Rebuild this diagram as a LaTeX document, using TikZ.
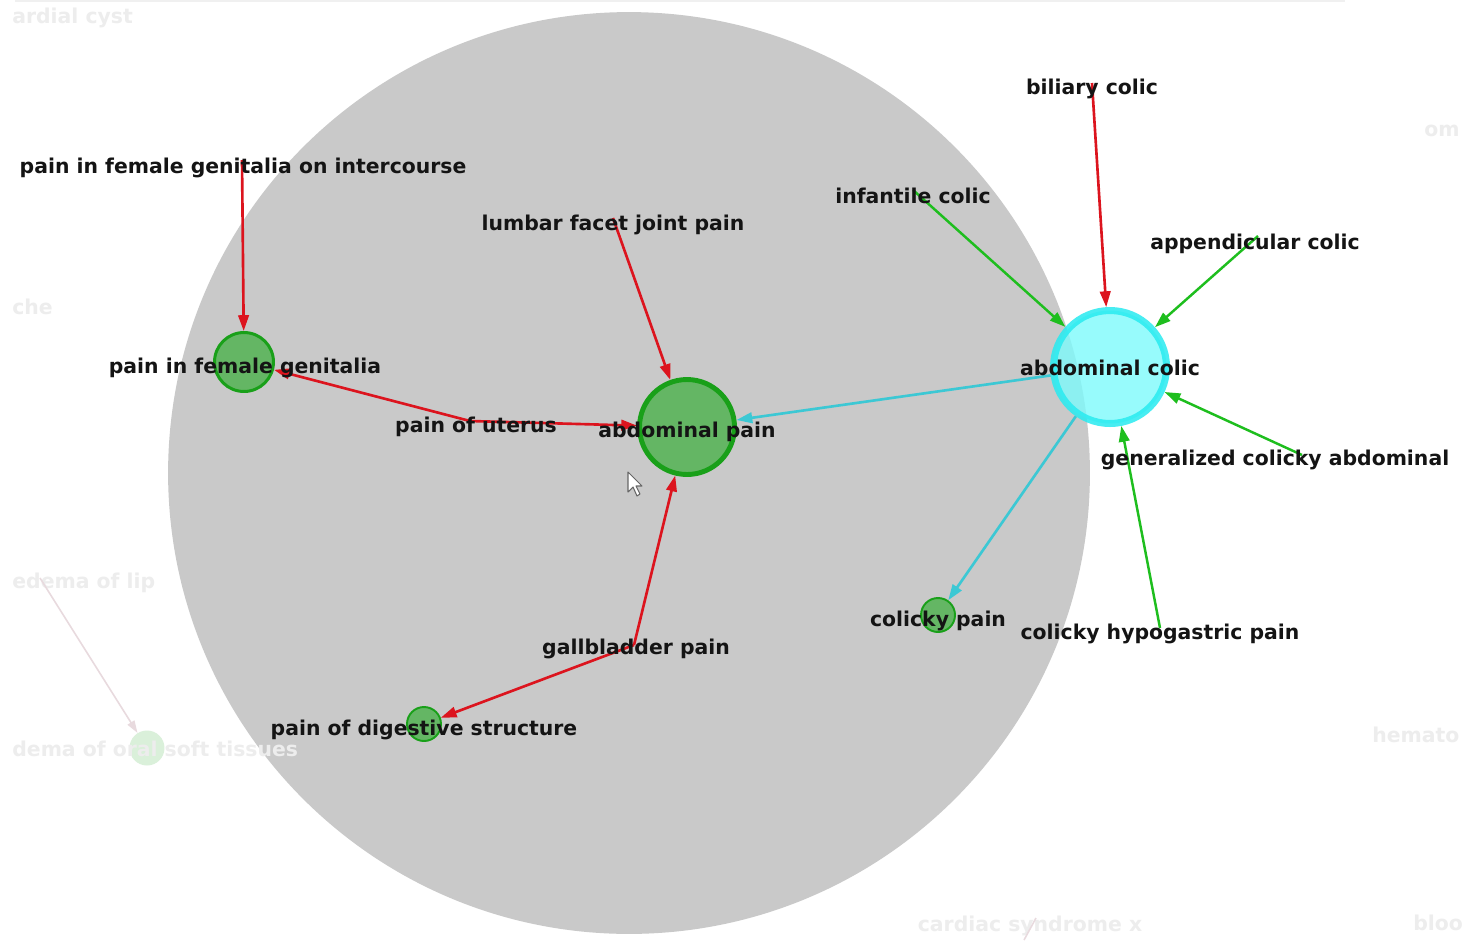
\documentclass[tikz,border=0pt]{standalone}
\usepackage{fontspec}
\setmainfont{DejaVu Sans}
\usetikzlibrary{arrows.meta}
\definecolor{clustergray}{RGB}{201,201,201}
\definecolor{nodefill}{RGB}{100,182,100}
\definecolor{nodeline}{RGB}{25,160,25}
\definecolor{hubfill}{RGB}{125,250,252}
\definecolor{hubline}{RGB}{40,235,240}
\definecolor{edgered}{RGB}{220,20,30}
\definecolor{edgegreen}{RGB}{30,190,30}
\definecolor{edgecyan}{RGB}{60,200,212}
\definecolor{ghostpink}{RGB}{232,218,222}
\definecolor{ghostgreen}{RGB}{218,240,218}

\begin{document}
\begin{tikzpicture}[
    x=0.02cm, y=-0.02cm,
    cluster/.style={circle, fill=clustergray, inner sep=0pt, minimum size=18.44cm},
    disease/.style={circle, draw=nodeline, fill=nodefill, inner sep=0pt},
    hub/.style={circle, draw=hubline, fill=hubfill, fill opacity=0.8, draw opacity=0.85, line width=4pt, inner sep=0pt, minimum size=2.26cm},
    lbl/.style={font=\bfseries\fontsize{11.6}{13}\selectfont, text=black!92, inner sep=0pt, text height=0.75em, text depth=0.2em},
    ghost/.style={font=\bfseries\fontsize{11.6}{13}\selectfont, text=black!7, inner sep=0pt, text height=0.75em, text depth=0.2em},
    redarrow/.style={draw=edgered, line width=1.5pt, -{Triangle[length=9pt,width=6pt]}},
    greenarrow/.style={draw=edgegreen, line width=1.4pt, -{Triangle[length=9pt,width=6pt]}},
    cyanarrow/.style={draw=edgecyan, line width=1.5pt, -{Triangle[length=9pt,width=6pt]}},
    ghostarrow/.style={draw=ghostpink, line width=0.9pt, -{Triangle[length=7pt,width=4.5pt]}},
]
\clip (0,0) rectangle (1462,940);
\fill[white] (0,0) rectangle (1462,940);

% faint frame line and faint neighbours
\draw[black!6, line width=0.8pt] (15,1) -- (1345,1);
\node[ghost, anchor=west] (cyst-l) at (12,19) {ardial cyst};
\node[ghost, anchor=west] (che-l) at (12,310) {che};
\node[ghost, anchor=west] (lip-l) at (12,584) {edema of lip};
\node[ghost, anchor=west] (om-l) at (1424,132) {om};
\node[ghost, anchor=west] (hemato-l) at (1372,738) {hemato};
\node[ghost, anchor=west] (bloo-l) at (1413,926) {bloo};
\node[ghost] (cardiac-l) at (1030,927) {cardiac syndrome x};

% cluster disc
\node[cluster] (cluster) at (629,473) {};

% faint node and its edge
\coordinate (lip) at (40,578);
\node[circle, fill=ghostgreen, inner sep=0pt, minimum size=0.7cm] (oral) at (147,748) {};
\draw[ghostarrow] (lip) -- (oral);
\node[ghost, anchor=west] (oral-l) at (12,752) {dema of oral soft tissues};
\coordinate (cardiac-a) at (1024,940);
\coordinate (cardiac-b) at (1036,918);
\draw[ghostpink, line width=0.9pt] (cardiac-a) -- (cardiac-b);

% main nodes
\node[disease, line width=2.8pt, minimum size=1.9cm] (abdpain) at (687,427) {};
\node[disease, line width=1.7pt, minimum size=1.18cm] (female) at (244,362) {};
\node[disease, line width=1.1pt, minimum size=0.68cm] (colicky) at (938,615) {};
\node[disease, line width=1.1pt, minimum size=0.68cm] (digestive) at (424,724) {};
\node[hub] (abdcolic) at (1110,367) {};

% source points
\coordinate (intercourse) at (242,160);
\coordinate (lumbar) at (613,218);
\coordinate (infantile) at (913,190);
\coordinate (biliary) at (1092,83);
\coordinate (appendicular) at (1258,236);
\coordinate (uterus) at (470,421);
\coordinate (generalized) at (1302,455);
\coordinate (hypogastric) at (1160,628);
\coordinate (gallbladder) at (634,645);

% edges
\draw[redarrow] (intercourse) -- (female);
\draw[redarrow] (lumbar) -- (abdpain);
\draw[redarrow] (uterus) -- (female);
\draw[redarrow] (uterus) -- (abdpain);
\draw[redarrow] (gallbladder) -- (abdpain);
\draw[redarrow] (gallbladder) -- (digestive);
\draw[redarrow] (biliary) -- (abdcolic);
\draw[greenarrow] (infantile) -- (abdcolic);
\draw[greenarrow] (appendicular) -- (abdcolic);
\draw[greenarrow] (generalized) -- (abdcolic);
\draw[greenarrow] (hypogastric) -- (abdcolic);
\draw[cyanarrow] (abdcolic) -- (abdpain);
\draw[cyanarrow] (abdcolic) -- (colicky);

% labels
\node[lbl] (intercourse-l) at (243,169) {pain in female genitalia on intercourse};
\node[lbl] (lumbar-l) at (613,226) {lumbar facet joint pain};
\node[lbl] (infantile-l) at (913,199) {infantile colic};
\node[lbl] (biliary-l) at (1092,90) {biliary colic};
\node[lbl] (appendicular-l) at (1255,245) {appendicular colic};
\node[lbl] (abdcolic-l) at (1110,371) {abdominal colic};
\node[lbl] (female-l) at (245,369) {pain in female genitalia};
\node[lbl] (abdpain-l) at (687,433) {abdominal pain};
\node[lbl] (uterus-l) at (476,428) {pain of uterus};
\node[lbl] (generalized-l) at (1275,461) {generalized colicky abdominal};
\node[lbl] (colicky-l) at (938,622) {colicky pain};
\node[lbl] (hypogastric-l) at (1160,635) {colicky hypogastric pain};
\node[lbl] (gallbladder-l) at (636,650) {gallbladder pain};
\node[lbl] (digestive-l) at (424,731) {pain of digestive structure};

% mouse pointer
\filldraw[fill=white, draw=black!60, line width=0.6pt, line join=round]
  (628,472) -- (628,492) -- (633,487) -- (637,496) -- (640,494) -- (636,486) -- (642,486) -- cycle;
\end{tikzpicture}
\end{document}
